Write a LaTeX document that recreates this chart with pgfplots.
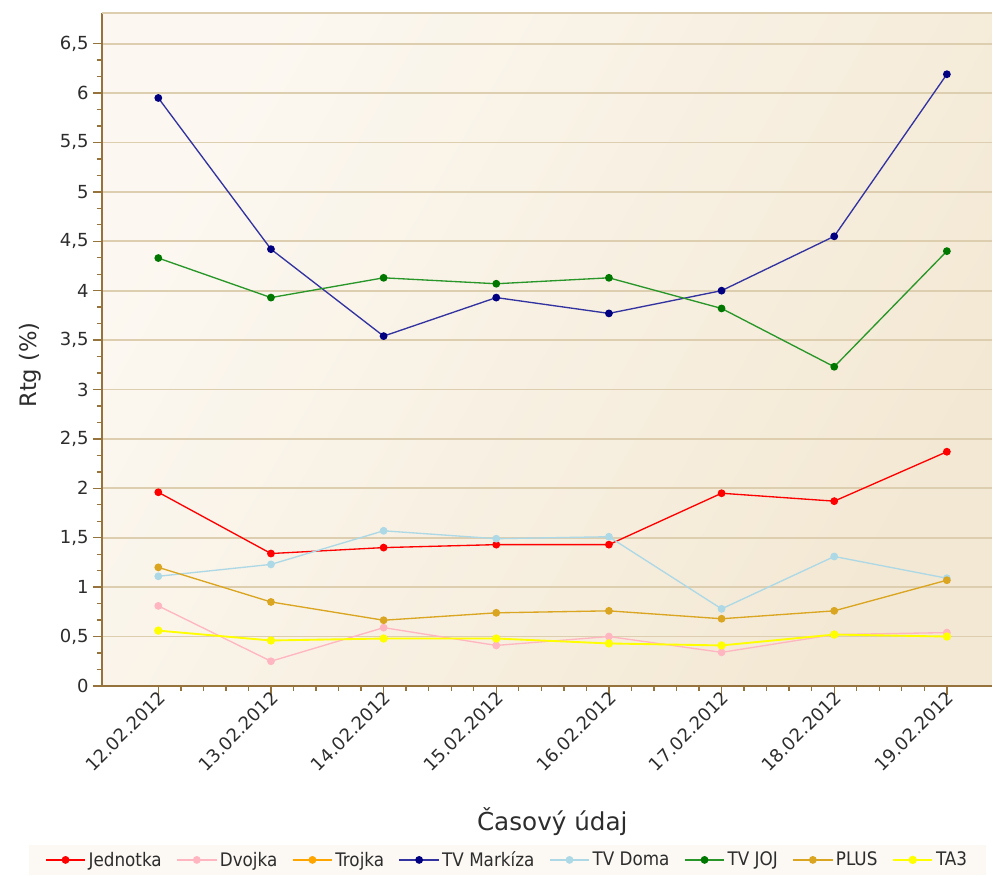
\documentclass[border=0pt]{standalone}
\usepackage{fontspec}
\setmainfont{DejaVu Sans}
\newfontfamily\condfont{DejaVu Sans Condensed}
\usepackage{pgfplots}
\pgfplotsset{compat=1.18}
\definecolor{axisbrown}{RGB}{150,115,60}
\definecolor{gridtan}{RGB}{222,206,176}
\definecolor{bgA}{RGB}{252,248,241}
\definecolor{bgB}{RGB}{243,232,211}
\definecolor{legbg}{RGB}{252,249,244}
\definecolor{txt}{RGB}{45,45,45}
\definecolor{cJed}{RGB}{255,0,0}
\definecolor{cDvo}{RGB}{255,182,193}
\definecolor{cTro}{RGB}{255,165,0}
\definecolor{cMarL}{RGB}{50,50,160}
\definecolor{cMarM}{RGB}{0,0,128}
\definecolor{cDom}{RGB}{173,216,230}
\definecolor{cJojL}{RGB}{40,150,40}
\definecolor{cJojM}{RGB}{0,120,0}
\definecolor{cPlu}{RGB}{218,165,32}
\definecolor{cTa}{RGB}{255,255,0}
\begin{document}
\begin{tikzpicture}
\begin{axis}[
  scale only axis, width=667.5pt, height=504.75pt,
  xmin=-0.5, xmax=7.4, ymin=0, ymax=6.81,
  clip=false,
  axis x line*=bottom, axis y line*=left,
  axis line style={axisbrown, line width=1.6pt},
  xtick={0,...,7},
  xticklabels={12.02.2012,13.02.2012,14.02.2012,15.02.2012,16.02.2012,17.02.2012,18.02.2012,19.02.2012},
  minor x tick num=4,
  ytick={0,0.5,...,6.5}, minor y tick num=2,
  tick align=outside,
  major tick style={axisbrown, line width=1pt},
  minor tick style={axisbrown, line width=1pt},
  major tick length=6.5pt, minor tick length=3.5pt,
  ymajorgrids, major grid style={gridtan, line width=1.4pt},
  /pgf/number format/.cd, use comma, 1000 sep={}, assume math mode=true,
  /pgfplots/.cd,
  ticklabel style={font=\fontsize{13.5}{16}\selectfont, text=txt},
  xticklabel style={rotate=45, anchor=east, xshift=3pt, yshift=-2pt, inner sep=1pt},
  xlabel={Časový údaj},
  xlabel style={font=\fontsize{18.5}{22}\selectfont, text=txt, at={(axis description cs:0.506,-0.202)}, anchor=center},
  ylabel={Rtg (\%)},
  ylabel style={font=\fontsize{17}{20}\selectfont, text=txt, at={(axis description cs:-0.081,0.477)}, anchor=center, rotate=0},
  axis background/.style={left color=bgA, right color=bgB, shading angle=60},
  legend columns=8,
  legend style={at={(0.4556,-0.2585)}, anchor=center, fill=legbg, draw=none,
    font=\condfont\fontsize{14}{16}\selectfont, text=txt,
    inner xsep=12pt, inner ysep=3pt,
    /tikz/every even column/.append style={column sep=9pt}},
  legend image code/.code={\draw[mark repeat=2,mark phase=2] plot coordinates {(0cm,0cm)(0.52cm,0cm)(1.04cm,0cm)};},
  every axis plot/.append style={line width=1pt, mark=*, mark size=2.4pt},
]
\path[draw=none] (rel axis cs:-0.1146,1.0193) rectangle (rel axis cs:1.0011,-0.2823);
\draw[gridtan, line width=1pt] (rel axis cs:0,1) -- (rel axis cs:1,1);

\addplot[cJed, mark options={fill=cJed}] coordinates {(0,1.96)(1,1.34)(2,1.40)(3,1.43)(4,1.43)(5,1.95)(6,1.87)(7,2.37)};
\addlegendentry{Jednotka}
\addplot[cDvo, mark options={fill=cDvo}] coordinates {(0,0.81)(1,0.25)(2,0.59)(3,0.41)(4,0.50)(5,0.34)(6,0.52)(7,0.54)};
\addlegendentry{Dvojka}
\addlegendimage{cTro, line width=1pt, mark=*, mark size=2.4pt, mark options={fill=cTro}}
\addlegendentry{Trojka}
\addplot[cMarL, mark options={draw=cMarM, fill=cMarM}] coordinates {(0,5.95)(1,4.42)(2,3.54)(3,3.93)(4,3.77)(5,4.00)(6,4.55)(7,6.19)};
\addlegendentry{TV Markíza}
\addplot[cDom, mark options={fill=cDom}] coordinates {(0,1.11)(1,1.23)(2,1.57)(3,1.49)(4,1.51)(5,0.78)(6,1.31)(7,1.09)};
\addlegendentry{TV Doma}
\addplot[cJojL, mark options={draw=cJojM, fill=cJojM}] coordinates {(0,4.33)(1,3.93)(2,4.13)(3,4.07)(4,4.13)(5,3.82)(6,3.23)(7,4.40)};
\addlegendentry{TV JOJ}
\addplot[cPlu, mark options={fill=cPlu}] coordinates {(0,1.20)(1,0.85)(2,0.665)(3,0.74)(4,0.76)(5,0.68)(6,0.76)(7,1.07)};
\addlegendentry{PLUS}
\addplot[cTa, line width=1.4pt, mark options={fill=cTa}] coordinates {(0,0.56)(1,0.46)(2,0.48)(3,0.48)(4,0.43)(5,0.41)(6,0.52)(7,0.50)};
\addlegendentry{TA3}
\end{axis}
\end{tikzpicture}
\end{document}
